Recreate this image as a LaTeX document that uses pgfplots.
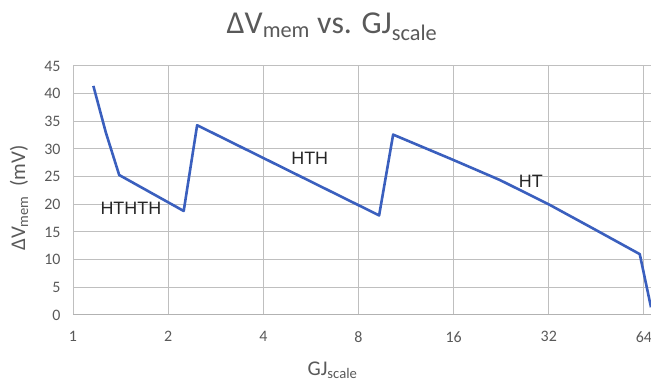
\documentclass[border=0pt]{standalone}
\usepackage{pgfplots}
\pgfplotsset{compat=1.18}
\usepackage{fontspec}
\setmainfont{Carlito}
\newfontfamily\arialf{Liberation Sans}
\definecolor{txt}{HTML}{595959}
\definecolor{grid}{HTML}{D9D9D9}
\definecolor{ln}{RGB}{58,95,190}
\begin{document}
\begin{tikzpicture}
\useasboundingbox (0,0) rectangle (651bp,386bp);
\begin{axis}[
  at={(73bp,71bp)}, anchor=south west,
  scale only axis, width=578bp, height=249bp,
  xmode=log, log basis x=2,
  xmin=1, xmax=67.4, ymin=0, ymax=45,
  xtick={1,2,4,8,16,32,64}, xticklabels={1,2,4,8,16,32,64},
  ytick={0,5,...,45},
  axis line style={draw=none},
  grid=major, grid style={grid, line width=1bp},
  tick style={draw=none},
  tick label style={font=\fontsize{16}{18}\selectfont, text=txt},
  /pgf/number format/assume math mode=true,
  xticklabel style={yshift=-13bp},
  yticklabel style={xshift=-9bp},
  clip=false,
]
\draw[draw=gray!60, line width=1bp] (axis cs:1,0) -- (axis cs:67.4,0);
\addplot[ln, line width=2.6bp, line join=round] coordinates {
(1.16,41.4) (1.27,33.0) (1.40,25.3) (2.24,18.8) (2.47,34.3)
(9.3,18.0) (10.3,32.6) (16,28.0) (22.4,24.4) (32,20.0)
(45.3,15.3) (62.1,11.0) (67.4,1.4)
};
\node[font=\arialf\fontsize{18}{20}\selectfont, text=black!85] at (axis cs:1.525,19.3) {HTHTH};
\node[font=\arialf\fontsize{18}{20}\selectfont, text=black!85] at (axis cs:5.61,28.25) {HTH};
\node[font=\arialf\fontsize{18}{20}\selectfont, text=black!85] at (axis cs:28.1,24.1) {HT};
\end{axis}
\node[font=\fontsize{32}{36}\selectfont, text=txt, anchor=base] at (332bp,352.7bp) {ΔV\textsubscript{mem} vs. GJ\textsubscript{scale}};
\node[font=\fontsize{21}{24}\selectfont, text=txt, anchor=base] at (332.5bp,11bp) {GJ\textsubscript{scale}};
\node[font=\fontsize{21}{24}\selectfont, text=txt, rotate=90, anchor=base] at (25bp,188bp) {ΔV\textsubscript{mem}\ \ (mV)};
\end{tikzpicture}
\end{document}
